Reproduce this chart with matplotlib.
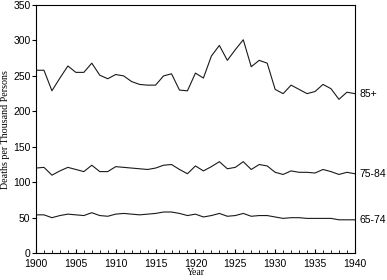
import numpy as np
import matplotlib
matplotlib.use('Agg')
import matplotlib.pyplot as plt
from matplotlib.ticker import MultipleLocator

plt.rcParams['font.family'] = ['Liberation Sans', 'DejaVu Sans']

years = np.arange(1900, 1941)

# deaths per thousand persons
age_85_plus = [258, 258, 229, 247, 264, 255, 255, 268, 251, 246,
               252, 250, 242, 238, 237, 237, 250, 253, 230, 229,
               254, 247, 278, 293, 272, 287, 301, 263, 272, 268,
               231, 225, 237, 231, 225, 228, 238, 232, 217, 227,
               225]
age_75_84 = [120, 121, 110, 116, 121, 118, 115, 124, 115, 115,
             122, 121, 120, 119, 118, 120, 124, 125, 118, 112,
             123, 116, 122, 129, 119, 121, 129, 118, 125, 123,
             114, 111, 116, 114, 114, 113, 118, 115, 111, 114,
             112]
age_65_74 = [54, 54, 50, 53, 55, 54, 53, 57, 53, 52,
             55, 56, 55, 54, 55, 56, 58, 58, 56, 53,
             55, 51, 53, 56, 52, 53, 56, 52, 53, 53,
             51, 49, 50, 50, 49, 49, 49, 49, 47, 47,
             47]

series = [('85+', age_85_plus), ('75-84', age_75_84), ('65-74', age_65_74)]

fig = plt.figure(figsize=(3.87, 2.80), dpi=100)
ax = fig.add_axes([0.093, 0.096, 0.824, 0.886])

for name, vals in series:
    ax.plot(years, vals, color='#1a1a1a', lw=0.8)
    ax.annotate(name, xy=(years[-1], vals[-1]), xytext=(3, 0),
                textcoords='offset points', va='center', ha='left',
                fontsize=7.5, annotation_clip=False)

ax.set_xlim(1900, 1940)
ax.set_ylim(0, 350)
ax.xaxis.set_major_locator(MultipleLocator(5))
ax.xaxis.set_minor_locator(MultipleLocator(1))
ax.yaxis.set_major_locator(MultipleLocator(50))

ax.tick_params(axis='x', which='both', direction='in', labelsize=7.5, pad=4.5)
ax.tick_params(axis='x', which='major', length=3)
ax.tick_params(axis='x', which='minor', length=2)
ax.tick_params(axis='y', direction='out', length=3, labelsize=7.5, pad=1)
for lab in ax.get_yticklabels():
    lab.set_verticalalignment('center_baseline')
for sp in ax.spines.values():
    sp.set_linewidth(0.8)

ax.set_xlabel('Year', family=['Liberation Serif'], fontsize=7, labelpad=-1)
ax.set_ylabel('Deaths per Thousand Persons', family=['Liberation Serif'],
              fontsize=7.2, labelpad=2)

fig.savefig('out.png', dpi=100)
